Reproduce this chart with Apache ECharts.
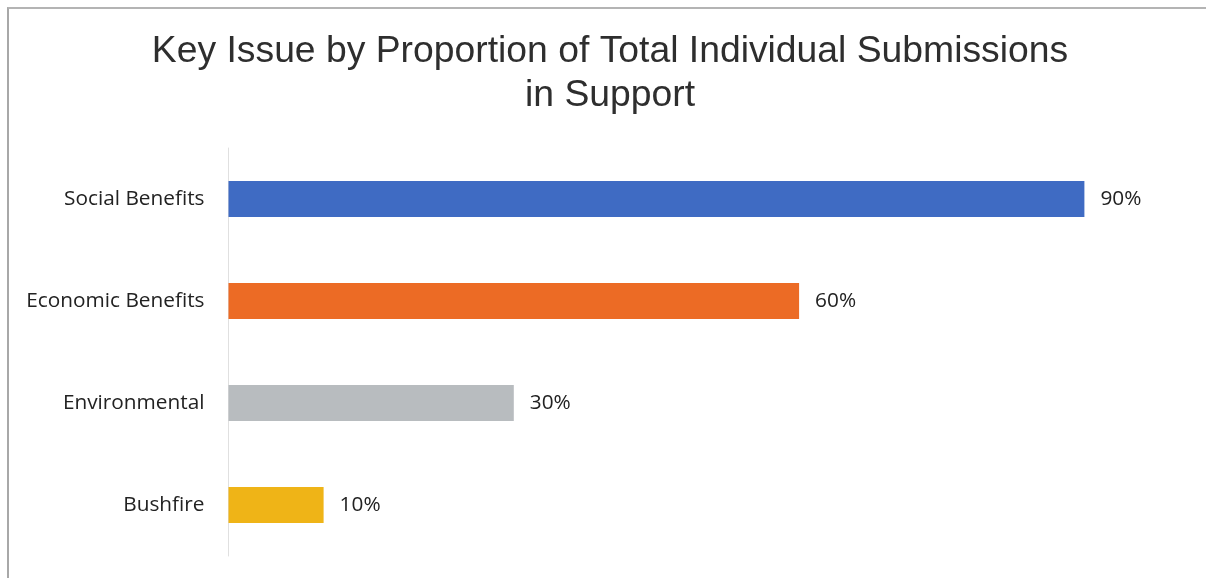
<!DOCTYPE html>
<html>
<head>
<meta charset="utf-8">
<script src="https://cdn.jsdelivr.net/npm/echarts@6/dist/echarts.min.js"></script>
<style>
  html, body { margin: 0; padding: 0; background: #fff; }
  #main { width: 1206px; height: 578px; }
  /* 扫描图左上边框 */
  .frame {
    position: absolute; left: 7px; top: 7px; right: 0; bottom: 0;
    border-left: 2px solid #a8a8a8; border-top: 2px solid #b4b4b4;
    pointer-events: none;
  }
</style>
</head>
<body>
<div id="main"></div>
<div class="frame"></div>
<script>
// 数据
var categories = ["Social Benefits", "Economic Benefits", "Environmental", "Bushfire"];
var values = [90, 60, 30, 10];
var barColors = ["#3f6bc3", "#ec6b25", "#b8bcbf", "#efb417"];

(function () {
  var myChart = echarts.init(document.getElementById("main"));

  var option = {
    animation: false,
    title: {
      text: "Key Issue by Proportion of Total Individual Submissions\nin Support",
      left: 605,
      textAlign: "center",
      top: 25,
      textStyle: {
        fontFamily: "Liberation Sans, Arial",
        fontSize: 37.3,
        fontWeight: "normal",
        color: "#2e2e2e",
        lineHeight: 44,
      },
    },
    grid: {
      left: 228.5,
      right: 26.5,
      top: 148,
      bottom: 22,
      containLabel: false,
    },
    xAxis: {
      type: "value",
      min: 0,
      max: 100,
      show: false,
    },
    yAxis: {
      type: "category",
      inverse: true,
      data: categories,
      axisTick: { show: false },
      axisLine: {
        show: true,
        lineStyle: { color: "#e0e0e0", width: 1 },
      },
      axisLabel: {
        margin: 24,
        fontFamily: "Open Sans, sans-serif",
        fontSize: 20.8,
        color: "#222",
      },
    },
    series: [
      {
        type: "bar",
        barWidth: 36,
        data: values.map(function (v, i) {
          return { value: v, itemStyle: { color: barColors[i] } };
        }),
        label: {
          show: true,
          position: "right",
          distance: 16,
          formatter: "{c}%",
          fontFamily: "Open Sans, sans-serif",
          fontSize: 20.8,
          color: "#222",
        },
      },
    ],
  };

  myChart.setOption(option);
})();
</script>
</body>
</html>
